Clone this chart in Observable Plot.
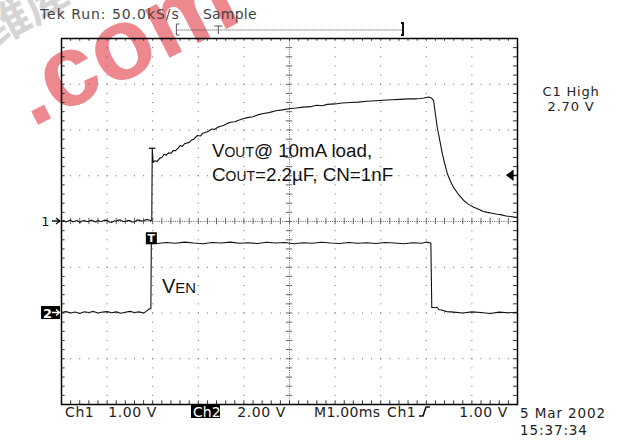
<!DOCTYPE html>
<html><head><meta charset="utf-8">
<script src="https://cdn.jsdelivr.net/npm/d3@7"></script>
<script src="https://cdn.jsdelivr.net/npm/@observablehq/plot@0.6"></script>
<style>body{margin:0;background:#fff} svg{display:block}</style>
</head><body><div id="chart"></div>
<script>
// ---- Data (time in ms, volts) ----
const ch1Time = [0,0.05,0.1,0.15,0.2,0.25,0.3,0.35,0.4,0.45,0.5,0.55,0.6,0.65,0.7,0.75,0.8,0.85,0.9,0.95,1.0,1.05,1.1,1.15,1.2,1.25,1.3,1.35,1.4,1.45,1.5,1.55,1.6,1.65,1.7,1.75,1.8,1.85,1.9,1.95,1.98,
  1.99,2.01,2.05,2.1,2.15,2.2,2.25,2.3,2.35,2.4,2.45,2.5,2.55,2.6,2.65,2.7,2.8,2.85,2.9,2.98,3.05,3.1,3.2,3.3,3.35,3.45,3.55,3.65,3.71,3.8,3.9,4.0,4.08,4.2,4.3,4.43,4.55,4.7,4.85,5.02,5.15,5.3,5.46,5.6,5.72,5.83,6.0,6.15,6.34,6.5,6.7,6.89,7.05,7.25,7.43,7.6,7.75,7.87,7.95,8.05,8.11,
  8.16,8.2,8.24,8.3,8.35,8.4,8.46,8.53,8.6,8.7,8.82,8.92,9.04,9.15,9.25,9.34,9.45,9.55,9.63,9.75,9.85,9.96,10.0];
const ch1Volts = [0.00,0.02,-0.01,0.01,0.03,-0.01,0.01,0.02,-0.02,0.01,0.02,0.00,0.00,0.03,0.01,-0.01,0.02,0.00,0.01,0.03,0.02,-0.01,-0.02,0.01,0.01,0.03,0.03,0.00,0.00,0.02,0.02,-0.01,-0.01,0.03,0.03,0.01,0.01,0.04,0.04,0.02,0.02,
  1.60,1.29,1.33,1.31,1.38,1.40,1.47,1.45,1.50,1.49,1.55,1.55,1.60,1.66,1.64,1.70,1.73,1.78,1.80,1.88,1.87,1.93,1.96,2.02,2.01,2.07,2.10,2.15,2.17,2.18,2.22,2.25,2.27,2.29,2.33,2.36,2.38,2.42,2.44,2.47,2.48,2.50,2.51,2.54,2.53,2.56,2.57,2.59,2.60,2.61,2.63,2.64,2.65,2.66,2.67,2.68,2.68,2.69,2.70,2.72,2.70,
  2.64,2.35,2.06,1.75,1.49,1.28,1.05,0.88,0.74,0.60,0.46,0.38,0.31,0.27,0.22,0.20,0.18,0.16,0.15,0.12,0.11,0.09,0.09];

const ch2Time = [0,0.1,0.2,0.3,0.4,0.5,0.6,0.7,0.8,0.9,1.0,1.1,1.2,1.3,1.4,1.5,1.6,1.7,1.8,1.85,1.92,1.96,
  1.97,2.1,2.3,2.5,2.7,2.9,3.1,3.3,3.5,3.7,3.9,4.1,4.3,4.5,4.7,4.9,5.1,5.3,5.5,5.7,5.9,6.1,6.3,6.5,6.7,6.9,7.1,7.3,7.5,7.7,7.9,8.0,8.1,
  8.12,8.24,8.27,8.35,8.45,8.6,8.8,9.0,9.2,9.4,9.6,9.8,10.0];
const ch2Volts = [0.02,0.06,0.00,0.04,-0.02,0.05,0.02,0.07,0.00,0.04,0.06,0.01,0.05,-0.01,0.03,0.07,0.02,0.05,0.00,0.06,0.18,0.20,
  3.07,3.04,3.08,3.05,3.10,3.06,3.03,3.08,3.06,3.10,3.05,3.07,3.04,3.09,3.06,3.08,3.03,3.07,3.05,3.09,3.06,3.04,3.08,3.05,3.07,3.04,3.08,3.06,3.03,3.07,3.05,3.10,3.06,
  0.24,0.24,0.15,0.12,0.06,0.04,0.00,0.05,0.02,-0.02,0.04,0.01,0.03];

const ch1VoltsPerDiv = 1, ch2VoltsPerDiv = 2;   // vertical scale
const ch1GroundDiv = 0, ch2GroundDiv = -2;      // ground marker positions (divisions)
const ch1TriggerLevel = 1.0;                     // volts
const ch1HighLabel = "2.70 V";
const timePerDiv = 1;                            // ms/div

const ch1 = ch1Time.map((t, i) => ({t, div: ch1GroundDiv + ch1Volts[i] / ch1VoltsPerDiv}));
const ch2 = ch2Time.map((t, i) => ({t, div: ch2GroundDiv + ch2Volts[i] / ch2VoltsPerDiv}));
const spikeIdx = ch1Volts.indexOf(d3.max(ch1Volts.slice(0, 50)));
const spike = ch1[spikeIdx];

// graticule
const majorX = [1,2,3,4,6,7,8,9], majorY = [-3,-2,-1,1,2,3];
const minorX = d3.range(0, 10.001, 0.2), minorY = d3.range(-4, 4.001, 0.2);

const grey = "#666";
const chart = Plot.plot({
  width: 621, height: 441,
  marginLeft: 61, marginRight: 104, marginTop: 38, marginBottom: 37,
  x: {domain: [0, 10 * timePerDiv], axis: null},
  y: {domain: [-4, 4], axis: null},
  style: {background: "#fff"},
  marks: [
    Plot.ruleX(majorX, {stroke: grey, strokeDasharray: "1,8.15", strokeWidth: 1}),
    Plot.ruleY(majorY, {stroke: grey, strokeDasharray: "1,8.12", strokeWidth: 1}),
    Plot.ruleX([5], {stroke: grey, strokeDasharray: "1,1.29"}),
    Plot.ruleY([0], {stroke: grey, strokeDasharray: "1,1.28"}),
    Plot.ruleX(minorX, {y1: -0.07, y2: 0.07, stroke: grey}),
    Plot.ruleY(minorY, {x1: 4.93, x2: 5.07, stroke: grey}),
    Plot.ruleX(minorX, {y1: -4, y2: -3.92, stroke: "#333"}),
    Plot.ruleX(minorX, {y1: 3.94, y2: 4, stroke: "#333"}),
    Plot.ruleY(minorY, {x1: 0, x2: 0.08, stroke: "#333"}),
    Plot.ruleY(minorY, {x1: 9.91, x2: 10, stroke: "#333"}),
    Plot.frame({stroke: "#000", strokeWidth: 1.5}),
    Plot.line(ch1, {x: "t", y: "div", stroke: "#111", strokeWidth: 1.1}),
    Plot.ruleY([spike], {y: "div", x1: d => d.t - 0.06, x2: d => d.t + 0.08, stroke: "#111", strokeWidth: 1.3}),
    Plot.line(ch2, {x: "t", y: "div", stroke: "#111", strokeWidth: 1.1})
  ]
});
document.getElementById("chart").append(chart);

// ---- overlay labels (scope readouts) ----
const svg = d3.select(chart);
const sx = chart.scale("x"), sy = chart.scale("y");
const X = v => sx.apply(v), Y = v => sy.apply(v);
const mono = "DejaVu Sans";

// watermark
const wm = svg.insert("g", ":first-child").attr("text-anchor", "start");
wm.append("text").attr("transform", "translate(32,128) rotate(-27)")
  .attr("font-family", "Liberation Sans").attr("font-weight", "bold").attr("font-size", 102)
  .attr("fill", "#e6565f").attr("opacity", 0.7).text(".com");
wm.append("text").attr("transform", "translate(-4,46) rotate(-28)")
  .attr("font-family", "Noto Sans CJK SC").attr("font-weight", "bold").attr("font-size", 44)
  .attr("fill", "#999").attr("opacity", 0.4).text("维库");

function txt(x, y, s, o = {}) {
  return svg.append("text").attr("x", x).attr("y", y)
    .attr("font-family", o.family || mono).attr("font-size", o.size || 13.5)
    .attr("letter-spacing", o.ls ?? 0.6)
    .attr("text-anchor", o.anchor || "start")
    .attr("font-weight", o.weight || "normal")
    .attr("fill", o.fill || "#222").text(s);
}
// header
txt(40, 19, "Tek Run: 50.0kS/s", {fill: "#444", size: 14, ls: 0.95});
txt(203, 19, "Sample", {fill: "#444", size: 14, ls: 0.2});
// record bracket
const bx1 = X(2.53), bx2 = X(7.5), tx = X(3.45);
svg.append("line").attr("x1", bx1).attr("x2", bx2).attr("y1", 30).attr("y2", 30)
  .attr("stroke", "#444").attr("stroke-dasharray", "1,1");
svg.append("path").attr("d", `M${bx1+3},24H${bx1}V35H${bx1+3}`).attr("fill", "none").attr("stroke", "#555");
svg.append("path").attr("d", `M${bx2-2},23H${bx2}V35H${bx2-2}`).attr("fill", "none").attr("stroke", "#111").attr("stroke-width", 2);
svg.append("path").attr("d", `M${tx-4},26H${tx+4}M${tx},26V34`).attr("fill", "none").attr("stroke", "#555");

// footer
txt(65, 417, "Ch1", {size: 14});
txt(157, 417, "1.00 V", {size: 14, anchor: "end"});
svg.append("rect").attr("x", 191).attr("y", 404).attr("width", 29).attr("height", 14).attr("fill", "#000");
txt(193, 417, "Ch2", {size: 14, fill: "#fff", ls: 0});
txt(286, 417, "2.00 V", {size: 14, anchor: "end"});
txt(314, 417, "M1.00ms", {size: 14, ls: 0.3});
txt(387, 417, "Ch1", {size: 14});
svg.append("path").attr("d", "M419,416H423L426,407H430").attr("fill", "none").attr("stroke", "#111").attr("stroke-width", 1.6);
txt(508, 417, "1.00 V", {size: 14, anchor: "end"});
txt(520, 418, "5 Mar 2002", {size: 13.5, ls: 0.9});
txt(520, 435, "15:37:34", {size: 13.5, ls: 0.9});
// right readout
txt(571, 96, "C1 High", {size: 13, anchor: "middle", ls: 0.8});
txt(571, 111, ch1HighLabel, {size: 13, anchor: "middle", ls: 0.8});

// channel markers
const g1 = Y(ch1GroundDiv), g2 = Y(ch2GroundDiv);
txt(50, g1 + 5, "1", {size: 13, anchor: "end", fill: "#111"});
svg.append("path").attr("d", `M52,${g1}H59M56,${g1-3}L60,${g1}L56,${g1+3}`).attr("fill", "none").attr("stroke", "#111").attr("stroke-width", 1.3);
svg.append("rect").attr("x", 41).attr("y", g2 - 6.5).attr("width", 19).attr("height", 13).attr("fill", "#000");
txt(43, g2 + 5, "2", {size: 13, fill: "#fff", ls: 0, weight: "bold"});
svg.append("path").attr("d", `M52,${g2}H59M56,${g2-3}L59.5,${g2}L56,${g2+3}`).attr("fill", "none").attr("stroke", "#fff").attr("stroke-width", 1.3);
// trigger level arrow (right edge)
const ty = Y(ch1GroundDiv + ch1TriggerLevel / ch1VoltsPerDiv), rx = X(10);
svg.append("path").attr("d", `M${rx-10},${ty}L${rx-4},${ty-4.5}L${rx-4},${ty+4.5}Z M${rx-4},${ty}H${rx}`).attr("fill", "#000").attr("stroke", "#000").attr("stroke-width", 1.2);
// ch2 trigger "T" box
const t2x = X(1.97), t2y = Y(ch2GroundDiv + 3.07 / ch2VoltsPerDiv);
svg.append("rect").attr("x", t2x - 5).attr("y", t2y - 10).attr("width", 11).attr("height", 12).attr("fill", "#000");
txt(t2x + 0.5, t2y, "T", {size: 11, fill: "#fff", anchor: "middle", weight: "bold", ls: 0});

// annotations
const ann = "Liberation Sans";
function annText(x, y, parts, size) {
  const t = svg.append("text").attr("x", x).attr("y", y).attr("text-anchor", "start")
    .attr("font-family", ann).attr("font-size", size).attr("fill", "#111");
  parts.forEach(([s, small]) => {
    const sp = t.append("tspan").text(s);
    if (small) sp.attr("font-size", size * 0.74);
  });
  return t;
}
annText(212, 157, [["V"], ["OUT", 1], ["@ 10mA load,"]], 18.8);
annText(212, 181, [["C"], ["OUT", 1], ["=2.2µF, CN=1nF"]], 18.8);
annText(162, 293, [["V"], ["EN", 1]], 20);
</script>
</body></html>
